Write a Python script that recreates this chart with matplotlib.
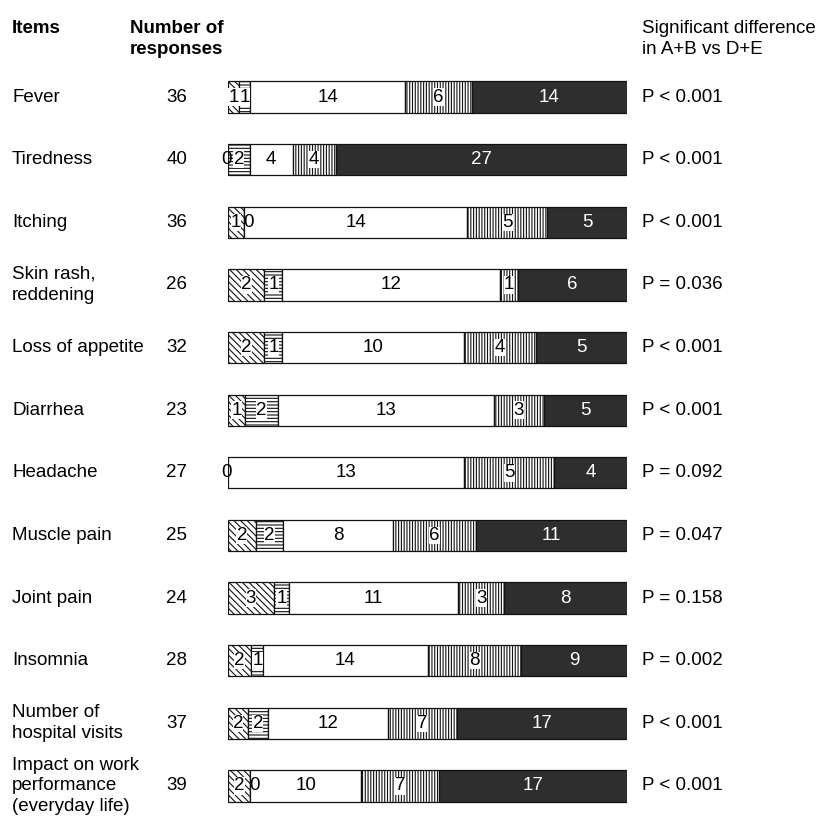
import numpy as np
import matplotlib
matplotlib.use("Agg")
import matplotlib.pyplot as plt
from matplotlib import transforms

plt.rcParams['font.family'] = ['Liberation Sans', 'DejaVu Sans']
plt.rcParams['hatch.linewidth'] = 0.8

items = ["Fever", "Tiredness", "Itching", "Skin rash,\nreddening", "Loss of appetite",
         "Diarrhea", "Headache", "Muscle pain", "Joint pain", "Insomnia",
         "Number of\nhospital visits", "Impact on work\nperformance\n(everyday life)"]
responses = [36, 40, 36, 26, 32, 23, 27, 25, 24, 28, 37, 39]
cat_a = [1, 0, 1, 2, 2, 1, 0, 2, 3, 2, 2, 2]
cat_b = [1, 2, 0, 1, 1, 2, 0, 2, 1, 1, 2, 0]
cat_c = [14, 4, 14, 12, 10, 13, 13, 8, 11, 14, 12, 10]
cat_d = [6, 4, 5, 1, 4, 3, 5, 6, 3, 8, 7, 7]
cat_e = [14, 27, 5, 6, 5, 5, 4, 11, 8, 9, 17, 17]
p_values = ["P < 0.001", "P < 0.001", "P < 0.001", "P = 0.036", "P < 0.001", "P < 0.001",
            "P = 0.092", "P = 0.047", "P = 0.158", "P = 0.002", "P < 0.001", "P < 0.001"]

W, H = 830, 825
fig = plt.figure(figsize=(W / 100, H / 100), dpi=100)

n = len(items)
top_c, bot_c = 97, 786
step = (bot_c - top_c) / (n - 1)
ax_top = top_c - step / 2
ax_bot = bot_c + step / 2
x0, x1 = 228, 627
ax = fig.add_axes([x0 / W, (H - ax_bot) / H, (x1 - x0) / W, (ax_bot - ax_top) / H])
ax.set_xlim(0, 100)
ax.set_ylim(n - 0.5, -0.5)
ax.axis("off")

segments = np.array([cat_a, cat_b, cat_c, cat_d, cat_e], dtype=float)
totals = segments.sum(axis=0)
shares = segments / totals * 100
styles = [
    dict(facecolor="white", hatch="\\\\\\\\\\"),
    dict(facecolor="white", hatch="-----"),
    dict(facecolor="white", hatch=None),
    dict(facecolor="white", hatch="||||||"),
    dict(facecolor="#2e2e2e", hatch=None),
]
ypos = np.arange(n)
bar_h = 0.5
fs = 13.5

left = np.zeros(n)
for k in range(5):
    ax.barh(ypos, shares[k], left=left, height=bar_h, edgecolor="#111111",
            linewidth=0.9, **styles[k])
    for i in range(n):
        val = int(segments[k, i])
        cx = left[i] + shares[k, i] / 2
        ha = "center"
        if val == 0:
            if k == 1 and segments[0, i] == 0:
                continue
            if k == 0:
                cx = left[i] - 0.4
            else:
                ha = "left"
                cx = left[i] - 0.3
        color = "white" if k == 4 else "black"
        bbox = None
        if styles[k]["hatch"] and val > 0:
            bbox = dict(facecolor="white", edgecolor="none", pad=0.2)
        ax.text(cx, ypos[i], str(val), ha=ha, va="center", fontsize=fs,
                color=color, bbox=bbox, zorder=5)
    left += shares[k]

tr = transforms.blended_transform_factory(fig.transFigure, ax.transData)
for i in range(n):
    ax.text(12 / W, ypos[i], items[i], transform=tr, ha="left", va="center",
            fontsize=fs, linespacing=1.3)
    ax.text(187 / W, ypos[i], str(responses[i]), transform=tr, ha="right",
            va="center", fontsize=fs)
    ax.text(642 / W, ypos[i], p_values[i], transform=tr, ha="left", va="center",
            fontsize=fs)

fig.text(12 / W, 1 - 20 / H, "Items", ha="left", va="top", fontsize=fs, fontweight="bold")
fig.text(130 / W, 1 - 20 / H, "Number of\nresponses", ha="left", va="top",
         fontsize=fs, fontweight="bold", linespacing=1.3)
fig.text(642 / W, 1 - 20 / H, "Significant difference\nin A+B vs D+E", ha="left",
         va="top", fontsize=fs, linespacing=1.3)

fig.savefig("out.png", dpi=100, facecolor="white")
